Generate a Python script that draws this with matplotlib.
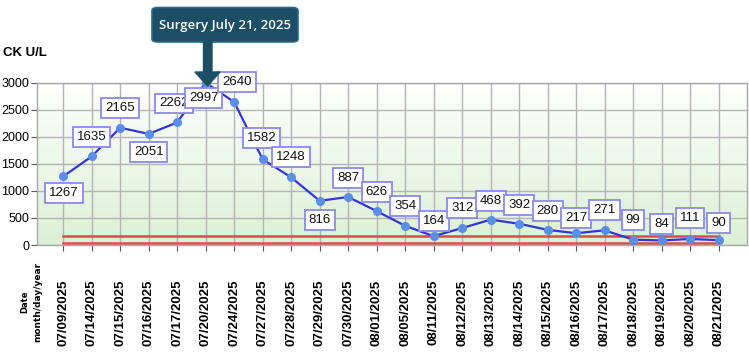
import matplotlib
matplotlib.use("Agg")
import matplotlib.pyplot as plt
import matplotlib.patches as mpatches
import numpy as np

DATES = ["07/09/2025", "07/14/2025", "07/15/2025", "07/16/2025", "07/17/2025",
         "07/20/2025", "07/24/2025", "07/27/2025", "07/28/2025", "07/29/2025",
         "07/30/2025", "08/01/2025", "08/05/2025", "08/11/2025", "08/12/2025",
         "08/13/2025", "08/14/2025", "08/15/2025", "08/16/2025", "08/17/2025",
         "08/18/2025", "08/19/2025", "08/20/2025", "08/21/2025"]
CK = [1267, 1635, 2165, 2051, 2262, 2997, 2640, 1582, 1248, 816,
      887, 626, 354, 164, 312, 468, 392, 280, 217, 271,
      99, 84, 111, 90]
REF_UPPER = 165
REF_LOWER = 40
Y_TICKS = [0, 500, 1000, 1500, 2000, 2500, 3000]

# label offsets in pixels (dx, dy), positive dy = above the point
LABEL_OFFSETS = [(1, -17), (0, 19), (0, 20), (0, -18), (-3, 19), (-2, -15),
                 (3, 20), (-1, 21), (0, 20), (0, -19), (0, 19), (0, 19),
                 (0, 20), (0, 15), (0, 20), (0, 19), (0, 19), (0, 19),
                 (0, 15), (0, 20), (0, 20), (0, 16), (0, 21), (0, 17)]

FONT = ["Liberation Sans", "DejaVu Sans"]

fig = plt.figure(figsize=(7.49, 3.52), dpi=100)
ax = fig.add_axes([37 / 749, 1 - 245 / 352, 710 / 749, 162.5 / 352])

x = np.arange(len(CK))
ax.set_xlim(-0.92, 24.0)
ax.set_ylim(0, 3000)

# white-to-green gradient background
grad = np.linspace(0, 1, 256).reshape(-1, 1)
cmap = matplotlib.colors.LinearSegmentedColormap.from_list("bg", ["#dcf0d5", "#ffffff"])
ax.imshow(grad, aspect="auto", cmap=cmap, origin="lower",
          extent=[-0.92, 24.0, 0, 3000], zorder=0)

ax.set_xticks(x)
ax.set_xticklabels(DATES, rotation=90, fontsize=9.5, fontweight="bold", family=FONT)
ax.set_yticks(Y_TICKS)
ax.set_yticklabels([str(v) for v in Y_TICKS], fontsize=9, family=FONT)
ax.tick_params(axis="both", length=4, color="#555555")
ax.tick_params(axis="x", pad=21)
ax.tick_params(axis="y", pad=1.5)
ax.grid(True, color="#b4b4b4", linewidth=1.0, zorder=1)
ax.set_axisbelow(True)
for s in ax.spines.values():
    s.set_color("#a8a8a8")
    s.set_linewidth(1.0)

# reference range lines
ax.plot([0, 23], [REF_UPPER, REF_UPPER], color="#e2474a", linewidth=1.8, zorder=2)
ax.plot([0, 23], [REF_LOWER, REF_LOWER], color="#e2474a", linewidth=1.8, zorder=2)

ax.plot(x, CK, color="#3535d4", linewidth=1.6, zorder=3,
        marker="o", markersize=5.5, markerfacecolor="#5b8ee6",
        markeredgecolor="#5b8ee6", clip_on=False)

for i, v in enumerate(CK):
    dx, dy = LABEL_OFFSETS[i]
    ax.annotate(str(v), (x[i], v), xytext=(dx, dy), textcoords="offset pixels",
                ha="center", va="center", fontsize=9.5, family=FONT,
                color="#111111", zorder=5, annotation_clip=False,
                bbox=dict(boxstyle="square,pad=0.3", facecolor="white",
                          edgecolor="#8a8ae8", linewidth=1.3))

# axis titles
fig.text(3 / 749, 1 - 53 / 352, "CK U/L", fontsize=9.5, fontweight="bold",
         ha="left", va="center", family=FONT)
fig.text(25 / 749, 1 - 302 / 352, "Date", fontsize=6, fontweight="bold",
         rotation=90, ha="center", va="center")
fig.text(38 / 749, 1 - 302 / 352, "month/day/year", fontsize=6.5, fontweight="bold",
         rotation=90, ha="center", va="center")

# surgery callout
teal = "#1c4e66"
box = mpatches.FancyBboxPatch((152 / 749, 1 - 42 / 352), 146 / 749, 34.5 / 352,
                              boxstyle="round,pad=0,rounding_size=0.008",
                              transform=fig.transFigure, facecolor=teal,
                              edgecolor="#2f6a82", linewidth=1.2, zorder=10)
fig.patches.append(box)
arrow = mpatches.Polygon(
    [(203.5 / 749, 1 - 41 / 352), (212 / 749, 1 - 41 / 352),
     (212 / 749, 1 - 72 / 352), (220 / 749, 1 - 72 / 352),
     (207.5 / 749, 1 - 86 / 352), (195 / 749, 1 - 72 / 352),
     (203.5 / 749, 1 - 72 / 352)],
    closed=True, transform=fig.transFigure, facecolor=teal,
    edgecolor=teal, zorder=11)
fig.patches.append(arrow)
fig.text(225 / 749, 1 - 25 / 352, "Surgery July 21, 2025", color="white",
         fontsize=9.5, fontweight="semibold", ha="center", va="center",
         family=["Open Sans", "DejaVu Sans"], zorder=12)

fig.savefig("out.png", dpi=100)
